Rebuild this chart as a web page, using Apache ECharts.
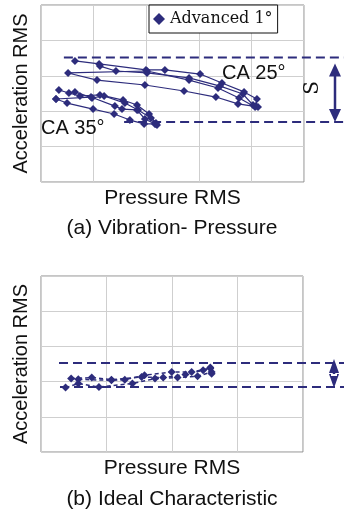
<!DOCTYPE html>
<html>
<head>
<meta charset="utf-8">
<script src="https://cdn.jsdelivr.net/npm/echarts@6/dist/echarts.min.js"></script>
<style>
  html, body { margin: 0; background: #fff; }
  #chart { width: 344px; height: 514px; }
</style>
</head>
<body>
<div id="chart"></div>
<script>
// (a) pressure RMS (x) vs acceleration RMS (y), arbitrary 0-100 scale
const ca25Cycle1 = [[12.9, 68.4], [22.1, 66.7], [39.9, 63.3], [47.1, 63.3], [60.5, 61.0], [68.8, 55.9], [77.2, 50.9], [82.1, 46.9], [81.7, 42.9]];
const ca25Cycle2 = [[22.4, 65.5], [28.5, 62.7], [40.3, 61.6], [56.3, 58.8], [68.1, 54.2], [76.8, 49.7], [80.6, 43.5]];
const ca25Cycle3 = [[82.5, 42.4], [74.9, 44.1], [66.5, 48.0], [54.4, 51.4], [39.5, 54.8], [21.3, 57.6], [10.3, 61.6],
                    [40.3, 62.7], [56.3, 57.6], [67.3, 53.1], [75.3, 47.5], [81.4, 42.4]];
const ca35Cycle1 = [[6.8, 52.0], [10.6, 50.3], [14.8, 48.6], [22.4, 49.2], [31.2, 46.3], [36.5, 43.5], [41.1, 38.4], [43.7, 33.3]];
const ca35Cycle2 = [[12.9, 50.9], [19.4, 47.5], [24.0, 48.6], [31.9, 44.6], [36.9, 40.7], [41.8, 36.2], [43.7, 32.8]];
const ca35Cycle3 = [[5.7, 46.9], [9.9, 44.6], [19.8, 41.2], [27.8, 38.4], [33.8, 35.0], [39.2, 32.8], [43.3, 32.8]];
const ca35Cycle4 = [[5.7, 46.9], [19.0, 48.0], [28.1, 42.9], [30.8, 41.2], [36.5, 40.7], [39.5, 35.6], [44.1, 32.2]];
// S band: [x start, y]
const bandTopA = [8.7, 70.3];
const bandBottomA = [31.6, 33.9];

// (b) ideal characteristic, x 0-80, y 0-100
const idealRun1 = [[7.5, 36.6], [11.4, 38.9], [17.7, 36.9], [27.9, 38.9], [34.8, 41.7], [41.7, 42.3], [47.8, 43.0], [52.1, 45.5]];
const idealRun2 = [[9.2, 41.7], [15.5, 42.3], [21.5, 41.1], [30.7, 42.6], [37.3, 42.3], [44.1, 44.1], [49.5, 46.4], [51.7, 48.0]];
const idealRun3 = [[11.4, 41.3], [21.5, 40.7], [25.6, 41.1], [31.6, 43.6], [39.9, 45.5], [46.0, 45.5], [51.7, 47.4], [52.1, 44.5]];
const bandTopB = [5.5, 50.6];
const bandBottomB = [5.8, 36.9];

const LEGEND_NAME = "Advanced 1°";
const NAVY = "#2d2c7c";
const SANS = "Liberation Sans";

const loopsA = [ca25Cycle1, ca25Cycle2, ca25Cycle3, ca35Cycle1, ca35Cycle2, ca35Cycle3, ca35Cycle4];
const runsB = [idealRun1, idealRun2, idealRun3];

const axisCommon = {
  axisLine: { show: false },
  axisTick: { show: false },
  axisLabel: { show: false },
  splitLine: { show: true, lineStyle: { color: "#cfcfcf", width: 1 } },
  nameLocation: "middle",
};
const xName = { fontFamily: SANS, fontSize: 21, color: "#111" };
const yName = { fontFamily: SANS, fontSize: 20, color: "#111" };
const caption = { fontFamily: SANS, fontSize: 21, fontWeight: "normal", color: "#111" };

const chart = echarts.init(document.getElementById("chart"), null, { renderer: "canvas" });

chart.setOption({
  animation: false,
  title: [
    { text: "(a) Vibration- Pressure", left: "center", top: 218, padding: 0, textStyle: caption },
    { text: "(b) Ideal Characteristic", left: "center", top: 489, padding: 0, textStyle: caption },
  ],
  legend: {
    data: [LEGEND_NAME],
    left: 149, top: 5,
    icon: "diamond",
    itemWidth: 12, itemHeight: 12,
    padding: [6, 5, 6, 4],
    backgroundColor: "#fff",
    borderColor: "#111", borderWidth: 1,
    textStyle: { fontFamily: "DejaVu Serif", fontSize: 16, color: "#111" },
  },
  grid: [
    { left: 41, top: 5, width: 263, height: 177, show: true, borderColor: "#8c8c8c", borderWidth: 1 },
    { left: 41, top: 276, width: 262, height: 176, show: true, borderColor: "#8c8c8c", borderWidth: 1 },
  ],
  xAxis: [
    { ...axisCommon, gridIndex: 0, type: "value", min: 0, max: 100, interval: 20,
      name: "Pressure RMS", nameGap: 6, nameTextStyle: xName },
    { ...axisCommon, gridIndex: 1, type: "value", min: 0, max: 80, interval: 20,
      name: "Pressure RMS", nameGap: 6, nameTextStyle: xName },
  ],
  yAxis: [
    { ...axisCommon, gridIndex: 0, type: "value", min: 0, max: 100, interval: 20,
      name: "Acceleration RMS", nameGap: 10, nameTextStyle: yName },
    { ...axisCommon, gridIndex: 1, type: "value", min: 0, max: 100, interval: 20,
      name: "Acceleration RMS", nameGap: 10, nameTextStyle: yName },
  ],
  series: [
    ...loopsA.map((d) => ({
      name: LEGEND_NAME, type: "line", xAxisIndex: 0, yAxisIndex: 0, data: d,
      symbol: "diamond", symbolSize: 8, itemStyle: { color: NAVY },
      lineStyle: { color: NAVY, width: 1.2 },
    })),
    ...runsB.map((d) => ({
      name: LEGEND_NAME, type: "line", xAxisIndex: 1, yAxisIndex: 1, data: d,
      symbol: "diamond", symbolSize: 8, itemStyle: { color: NAVY },
      lineStyle: { color: NAVY, width: 1.5, type: [4, 3] },
    })),
  ],
});

// band lines run past the plot to the page edge
const toPx = (g, pt) => chart.convertToPixel({ gridIndex: g }, pt);
const W = 344;
const dashed = (g, start) => {
  const [x, y] = toPx(g, start);
  return {
    type: "line", shape: { x1: x, y1: y, x2: W, y2: y },
    style: { stroke: NAVY, lineWidth: 2, lineDash: [9, 5] }, silent: true,
  };
};
const arrow = (x, yTop, yBot, head, halfW) => [
  { type: "line", shape: { x1: x, y1: yTop + head - 2, x2: x, y2: yBot - head + 2 },
    style: { stroke: NAVY, lineWidth: 2.5 } },
  { type: "polygon", shape: { points: [[x, yTop], [x - halfW, yTop + head], [x + halfW, yTop + head]] },
    style: { fill: NAVY } },
  { type: "polygon", shape: { points: [[x, yBot], [x - halfW, yBot - head], [x + halfW, yBot - head]] },
    style: { fill: NAVY } },
];

const aTop = toPx(0, bandTopA)[1];
const aBot = toPx(0, bandBottomA)[1];
const bTop = toPx(1, bandTopB)[1];
const bBot = toPx(1, bandBottomB)[1];

chart.setOption({
  graphic: [
    dashed(0, bandTopA),
    dashed(0, bandBottomA),
    dashed(1, bandTopB),
    dashed(1, bandBottomB),
    ...arrow(335, aTop + 6, aBot, 13, 6),
    ...arrow(334, bTop - 4, bBot + 1, 14, 5),
    { type: "rect", shape: { x: 331, y: (bTop + bBot) / 2 - 1, width: 6, height: 2 }, style: { fill: "#fff" } },
    { type: "text", x: 313, y: (aTop + aBot) / 2 - 2, rotation: Math.PI / 2,
      style: { text: "S", font: "20px 'DejaVu Serif'", fill: "#111", align: "center", verticalAlign: "middle" } },
    { type: "text", x: 222, y: 63,
      style: { text: "CA 25°", font: "20px " + SANS, fill: "#111" } },
    { type: "text", x: 41, y: 118,
      style: { text: "CA 35°", font: "20px " + SANS, fill: "#111" } },
  ],
});
</script>
</body>
</html>
